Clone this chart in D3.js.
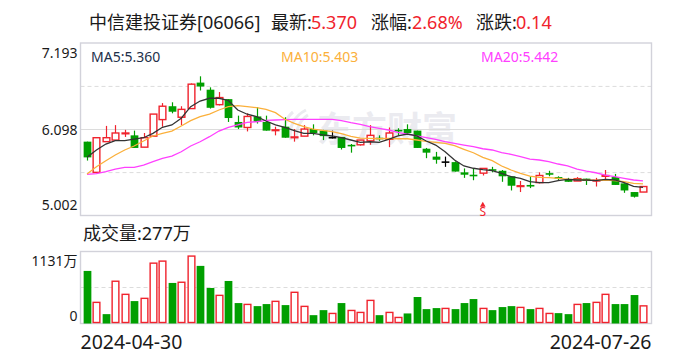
<!DOCTYPE html>
<html><head><meta charset="utf-8">
<script src="https://cdn.jsdelivr.net/npm/d3@7/dist/d3.min.js"></script>
<style>html,body{margin:0;padding:0;background:#fff}svg{display:block}text{font-family:"Noto Sans","Noto Sans CJK SC",sans-serif}</style>
</head><body><svg id="c" width="688" height="360"></svg>
<script>
const opens=[5.94,5.55,5.94,5.96,6.04,6.02,5.87,6.01,6.22,6.39,6.25,6.36,6.69,6.60,6.41,6.48,6.19,6.12,6.26,6.19,6.08,6.13,5.99,6.01,6.10,6.08,6.00,6.00,5.90,5.90,5.95,5.99,5.97,6.09,6.10,6.08,5.85,5.75,5.69,5.68,5.55,5.52,5.54,5.59,5.57,5.50,5.37,5.39,5.42,5.54,5.49,5.46,5.44,5.47,5.44,5.50,5.49,5.41,5.30,5.30];
const highs=[5.94,5.99,6.14,6.15,6.09,6.08,6.05,6.29,6.43,6.44,6.39,6.68,6.77,6.63,6.57,6.48,6.27,6.30,6.38,6.27,6.13,6.25,6.10,6.15,6.16,6.09,6.08,6.00,5.91,5.96,6.15,6.02,6.12,6.11,6.16,6.08,5.86,5.81,5.75,5.69,5.60,5.60,5.60,5.62,5.58,5.50,5.44,5.50,5.55,5.57,5.50,5.48,5.49,5.47,5.48,5.58,5.53,5.41,5.30,5.37];
const lows=[5.70,5.55,5.94,5.95,6.00,5.86,5.87,6.01,6.13,6.30,6.15,6.36,6.59,6.36,6.40,6.19,6.10,6.07,6.17,6.08,6.02,5.99,5.94,6.01,6.02,5.96,5.98,5.84,5.80,5.89,5.90,5.95,5.87,6.02,6.05,5.86,5.73,5.66,5.62,5.56,5.48,5.45,5.51,5.55,5.43,5.32,5.30,5.35,5.41,5.50,5.44,5.43,5.44,5.39,5.37,5.46,5.39,5.29,5.23,5.30];
const closes=[5.74,5.99,5.99,6.05,6.05,5.86,5.99,6.29,6.39,6.32,6.35,6.67,6.64,6.37,6.50,6.24,6.12,6.26,6.19,6.08,6.09,5.99,6.00,6.10,6.05,6.01,6.00,5.86,5.89,5.96,6.02,5.98,6.05,6.08,6.05,5.86,5.80,5.71,5.69,5.56,5.52,5.50,5.60,5.58,5.50,5.38,5.38,5.37,5.51,5.52,5.47,5.43,5.47,5.44,5.45,5.51,5.39,5.32,5.24,5.37];
const ma5=[5.741,5.834,5.910,5.952,5.952,5.973,5.990,6.046,6.122,6.152,6.237,6.384,6.456,6.491,6.491,6.463,6.342,6.288,6.257,6.202,6.152,6.122,6.079,6.046,6.046,6.025,6.012,5.990,5.961,5.932,5.939,5.932,5.970,6.012,6.037,6.012,5.948,5.897,5.812,5.707,5.631,5.602,5.584,5.571,5.536,5.495,5.474,5.431,5.419,5.419,5.444,5.462,5.453,5.453,5.444,5.462,5.453,5.419,5.373,5.360];
const ma10=[5.529,5.622,5.698,5.770,5.834,5.885,5.948,6.012,6.046,6.075,6.139,6.206,6.257,6.291,6.342,6.384,6.397,6.384,6.371,6.351,6.308,6.224,6.173,6.130,6.100,6.084,6.066,6.041,6.008,5.986,5.982,5.977,5.982,5.977,5.977,5.961,5.944,5.932,5.919,5.888,5.843,5.799,5.741,5.698,5.631,5.580,5.538,5.503,5.487,5.482,5.474,5.465,5.462,5.453,5.449,5.453,5.444,5.431,5.411,5.403];
const ma20=[5.525,5.533,5.558,5.592,5.614,5.614,5.643,5.685,5.728,5.757,5.812,5.885,5.939,6.003,6.075,6.122,6.152,6.186,6.193,6.211,6.215,6.219,6.224,6.224,6.224,6.224,6.222,6.208,6.181,6.160,6.130,6.109,6.088,6.059,6.037,6.012,5.990,5.970,5.939,5.919,5.897,5.876,5.850,5.834,5.802,5.779,5.749,5.719,5.707,5.685,5.656,5.631,5.592,5.567,5.545,5.516,5.495,5.474,5.453,5.442];
const volumes=[826,332,147,664,458,352,395,948,980,637,648,1059,905,558,442,668,321,300,273,305,348,289,490,269,131,210,158,321,205,174,363,131,174,95,158,416,226,242,237,226,321,384,237,210,258,273,253,226,237,158,163,147,300,321,332,458,305,305,447,277];
const volUp=[0,1,0,1,1,0,1,1,1,0,1,1,0,0,1,0,0,1,0,0,1,0,1,1,0,0,1,0,1,1,1,0,1,1,0,0,0,0,1,0,0,0,1,0,0,0,1,0,1,1,0,0,1,0,1,1,0,0,0,1];
const priceTicks=[7.193,6.098,5.002];
const dateLabels=["2024-04-30","2024-07-26"];
const signalIndex=42;

const UP="#f0232d",DOWN="#009f00",GRID="#dcdcdc",FRAME="#d2d2da",INK="#1a1a1a";
const svg=d3.select("#c");
const L=80.5,R=651.5,T=43,B=215.5,VT=251.5,VB=323.5;
const x=d3.scaleBand().domain(d3.range(opens.length)).range([82.3,647.7]).paddingInner(0.18).paddingOuter(0.09);
const y=d3.scaleLinear().domain([priceTicks[2],priceTicks[0]]).range([B,T]);
const yv=d3.scaleLinear().domain([0,1131]).range([VB,VT]);
const cx=i=>x(i)+x.bandwidth()/2;
const bw=x.bandwidth();

// title
const title=[[89,"中信建投证券[06066]",INK],[271,"最新:",INK],[311,"5.370",UP],[371,"涨幅:",INK],[412,"2.68%",UP],[476,"涨跌:",INK],[516,"0.14",UP]];
svg.selectAll(".t").data(title).join("text").attr("x",d=>d[0]).attr("y",29).attr("font-size",18).attr("fill",d=>d[2]).text(d=>d[1]);

// watermark
const wm=svg.append("g").attr("fill","none").attr("stroke","#eaeaef").attr("stroke-width",3);
["M291 140C288 128 294 116 306 110","M297 140C295 130 300 120 308 115","M286 136C283 126 286 118 293 112"].forEach(p=>wm.append("path").attr("d",p));
svg.append("text").attr("x",317).attr("y",142).attr("font-size",35).attr("font-weight",700).attr("fill","#ebebf0").text("东方财富");

// grid
const g=svg.append("g");
[86.4,172.6].forEach(v=>g.append("line").attr("x1",L).attr("x2",R).attr("y1",v).attr("y2",v).attr("stroke",GRID).attr("stroke-dasharray","4 3"));
g.append("line").attr("x1",L).attr("x2",R).attr("y1",129.5).attr("y2",129.5).attr("stroke",GRID);
g.append("line").attr("x1",L).attr("x2",R).attr("y1",287.5).attr("y2",287.5).attr("stroke",GRID).attr("stroke-dasharray","4 3");
g.append("rect").attr("x",L).attr("y",T).attr("width",R-L).attr("height",B-T).attr("fill","none").attr("stroke",FRAME).attr("stroke-width",1.4);
g.append("rect").attr("x",L).attr("y",VT).attr("width",R-L).attr("height",VB-VT).attr("fill","none").attr("stroke",FRAME).attr("stroke-width",1.4);

// candles
const color=i=>closes[i]>opens[i]?UP:closes[i]<opens[i]?DOWN:"#000";
const idx=d3.range(opens.length);
const cg=svg.append("g");
cg.selectAll(".wick").data(idx).join("line").attr("x1",i=>Math.round(cx(i))+.5).attr("x2",i=>Math.round(cx(i))+.5)
  .attr("y1",i=>y(highs[i])).attr("y2",i=>y(lows[i])).attr("stroke",color).attr("stroke-width",1.2);
cg.selectAll(".body").data(idx).join("rect")
  .attr("x",i=>Math.round(cx(i))+.5-bw/2+(closes[i]>opens[i]?.5:0))
  .attr("width",i=>closes[i]>opens[i]?bw-1:bw)
  .attr("y",i=>y(Math.max(opens[i],closes[i])))
  .attr("height",i=>Math.max(closes[i]>opens[i]?0.5:1.6,Math.abs(y(opens[i])-y(closes[i]))))
  .attr("fill",i=>closes[i]>opens[i]?"#fff":color(i))
  .attr("stroke",i=>closes[i]>opens[i]?UP:"none")
  .attr("stroke-width",1.4);

// moving averages
const line=d3.line().x((d,i)=>cx(i)).y(d=>y(d));
[[ma20,"#ff40ff"],[ma10,"#fbb03b"],[ma5,"#333333"]].forEach(([d,c])=>svg.append("path").attr("d",line(d)).attr("fill","none").attr("stroke",c).attr("stroke-width",1.3));

// signal marker
const sx=cx(signalIndex);
svg.append("path").attr("d",d3.symbol(d3.symbolTriangle,14)()).attr("transform",`translate(${sx},205)`).attr("fill",UP);
svg.append("text").attr("x",sx).attr("y",215.5).attr("font-size",12).attr("text-anchor","middle").attr("fill",UP).text("S");

// volume
svg.append("g").selectAll("rect").data(idx).join("rect")
  .attr("x",i=>Math.round(cx(i))+.5-bw/2+(volUp[i]?.5:0))
  .attr("width",i=>volUp[i]?bw-1:bw)
  .attr("y",i=>yv(volumes[i]))
  .attr("height",i=>yv(0)-yv(volumes[i])-(volUp[i]?1:0))
  .attr("fill",i=>volUp[i]?"#fff":DOWN)
  .attr("stroke",i=>volUp[i]?UP:"none").attr("stroke-width",1.4);

// labels
const labelY=[58,135,210];
priceTicks.forEach((v,i)=>svg.append("text").attr("x",77.5).attr("y",labelY[i]).attr("text-anchor","end").attr("font-size",14).attr("fill",INK).text(v.toFixed(3)));
[["MA5:5.360",91,"#22304a"],["MA10:5.403",281,"#fbb03b"],["MA20:5.442",481,"#ff40ff"]].forEach(d=>svg.append("text").attr("x",d[1]).attr("y",62).attr("font-size",14).attr("fill",d[2]).text(d[0]));
svg.append("text").attr("x",83).attr("y",240).attr("font-size",18).attr("fill",INK).text("成交量:277万");
svg.append("text").attr("x",77.5).attr("y",266).attr("text-anchor","end").attr("font-size",14).attr("fill",INK).text("1131万");
svg.append("text").attr("x",77.5).attr("y",321).attr("text-anchor","end").attr("font-size",14).attr("fill",INK).text("0");
svg.append("text").attr("x",80.5).attr("y",349).attr("font-size",19.5).attr("fill",INK).text(dateLabels[0]);
svg.append("text").attr("x",651.5).attr("y",349).attr("text-anchor","end").attr("font-size",19.5).attr("fill",INK).text(dateLabels[1]);
</script></body></html>
